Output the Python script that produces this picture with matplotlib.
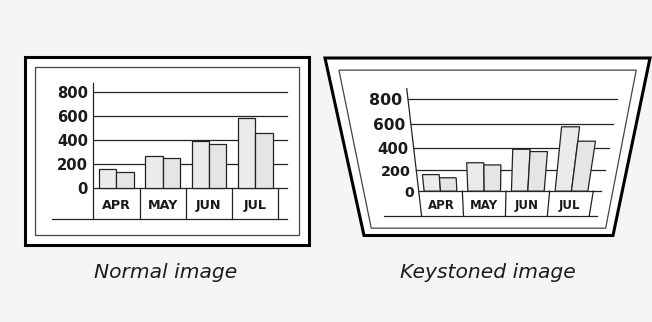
"""Normal vs keystoned projector image: one bar chart, drawn flat and warped."""
import numpy as np
import matplotlib

matplotlib.use("Agg")
import matplotlib.pyplot as plt
import matplotlib.transforms as mtransforms
from matplotlib.patches import Polygon

months = ["APR", "MAY", "JUN", "JUL"]
series_a = [160, 270, 390, 580]
series_b = [130, 250, 370, 460]
y_ticks = [0, 200, 400, 600, 800]
captions = ["Normal image", "Keystoned image"]

BG = "#f5f5f5"
INK = "#222222"


class Keystone(mtransforms.Transform):
    """Projective warp of pixel space, fitted from four corner pairs."""

    input_dims = output_dims = 2
    is_separable = False

    def __init__(self, src, dst):
        super().__init__()
        rows, rhs = [], []
        for (x, y), (u, v) in zip(src, dst):
            rows.append([x, y, 1, 0, 0, 0, -u * x, -u * y])
            rhs.append(u)
            rows.append([0, 0, 0, x, y, 1, -v * x, -v * y])
            rhs.append(v)
        h = np.linalg.solve(np.array(rows, float), np.array(rhs, float))
        self.H = np.append(h, 1.0).reshape(3, 3)

    def transform_non_affine(self, values):
        values = np.asarray(values, float).reshape(-1, 2)
        pts = np.column_stack([values, np.ones(len(values))]) @ self.H.T
        return pts[:, :2] / pts[:, 2:3]


def rect(x0, y0, x1, y1):
    return [(x0, y0), (x1, y0), (x1, y1), (x0, y1)]


def draw_panel(ax, warp):
    base = warp + ax.transData
    # chart units (category index, value) -> pixel space of the flat picture
    chart = mtransforms.Affine2D().scale(46.25, -0.12).translate(93.3, 188)
    tc = chart + base

    def scale_at(p):
        p = np.asarray(p, float)
        a, b = warp.transform([p, p + (1, 0)])
        return np.hypot(*(b - a))

    ax.add_patch(Polygon(rect(25, 57, 309, 245), closed=True, fc="white",
                         ec="black", lw=2.2, joinstyle="miter", transform=base))
    ax.add_patch(Polygon(rect(35, 67, 299, 235), closed=True, fill=False,
                         ec="#444444", lw=0.9, transform=base))

    band = -258
    for t in y_ticks:
        ax.plot([0, 4.18], [t, t], color=INK, lw=0.9, transform=tc)
    ax.plot([0, 0], [875, band], color=INK, lw=0.9, transform=tc)
    for i in range(1, len(months) + 1):
        ax.plot([i, i], [0, band], color=INK, lw=0.9, transform=tc)
    ax.plot([-0.9, 4.18], [band, band], color=INK, lw=0.9, transform=tc)

    x = np.arange(len(months)) + 0.5
    ax.bar(x - 0.1875, series_a, width=0.375, color="#ebebeb", edgecolor=INK,
           lw=0.9, transform=tc, zorder=3)
    ax.bar(x + 0.1875, series_b, width=0.375, color="#e4e5e7", edgecolor=INK,
           lw=0.9, transform=tc, zorder=3)

    to_px = chart + warp
    for t in y_ticks:
        src = chart.transform((-0.115, t))
        px, py = to_px.transform((-0.115, t))
        ax.text(px, py, str(t), ha="right", va="center_baseline",
                fontsize=10.6 * scale_at(src), fontweight="bold",
                family="DejaVu Sans", color="#1a1a1a")
    for xi, m in zip(x, months):
        src = chart.transform((xi, -133))
        px, py = to_px.transform((xi, -133))
        ax.text(px, py, m, ha="center", va="center_baseline",
                fontsize=9.2 * scale_at(src), fontweight="bold",
                family="DejaVu Sans", color="#1a1a1a")


fig = plt.figure(figsize=(6.52, 3.22), dpi=100, facecolor=BG)
ax = fig.add_axes([0, 0, 1, 1])
ax.set_facecolor(BG)
ax.set_autoscale_on(False)
ax.set_xlim(0, 652)
ax.set_ylim(322, 0)
ax.axis("off")

draw_panel(ax, mtransforms.IdentityTransform())
keystone = Keystone(rect(25, 57, 309, 245),
                    [(325, 58), (650, 58), (613, 235.5), (364, 235.5)])
draw_panel(ax, keystone)

for cx, text in zip([166, 488], captions):
    ax.text(cx, 271, text, ha="center", va="center_baseline", style="italic",
            fontsize=14.6, family="DejaVu Sans", color="#1c1c1c")

ax.set_xlim(0, 652)
ax.set_ylim(322, 0)
fig.savefig("out.png", dpi=100, facecolor=BG)
